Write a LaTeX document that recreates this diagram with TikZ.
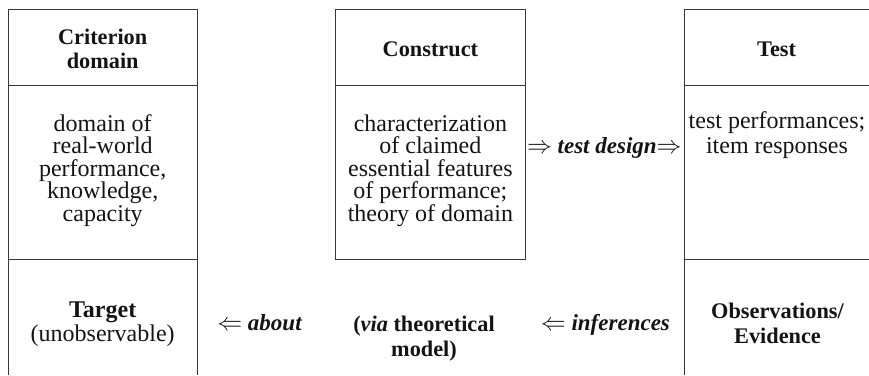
\documentclass[tikz,border=0pt]{standalone}
\usepackage{fontspec}
\setmainfont{Liberation Serif}
\begin{document}
\begin{tikzpicture}[x=1pt,y=-1pt,
  rule/.style={draw=black!78, line width=0.9pt},
  txt/.style={align=center, inner sep=0pt, anchor=base, text=black!92},
  body/.style={txt, font=\fontsize{24}{22.6}\selectfont},
  head/.style={txt, font=\fontsize{22.3}{24.5}\selectfont\bfseries},
  arrowtxt/.style={txt, font=\fontsize{23}{25}\selectfont\bfseries\itshape},
  bottomhead/.style={txt, font=\fontsize{22.3}{25}\selectfont\bfseries},
]
\useasboundingbox (0,0) rectangle (869,375);
% left column
\draw[rule] (8.3,375) -- (8.3,9.3) -- (197,9.3) -- (197,375);
\draw[rule] (8.3,85) -- (197,85);
\draw[rule] (8.3,259.5) -- (197,259.5);
% middle box
\draw[rule] (335.7,9.3) rectangle (525,259.5);
\draw[rule] (335.7,85) -- (525,85);
% right column
\draw[rule] (869,9.3) -- (684.3,9.3) -- (684.3,375);
\draw[rule] (684.3,85) -- (869,85);
\draw[rule] (684.3,259.5) -- (869,259.5);

% headers (anchor = baseline of the last line)
\node[head] (crithead) at (102.7,68.5) {Criterion\\domain};
\node[head] (conshead) at (430.4,56) {Construct};
\node[head] (testhead) at (776.6,56) {Test};

% bodies
\node[body] (critbody) at (102.7,221.4) {domain of\\real-world\\performance,\\knowledge,\\capacity};
\node[body] (consbody) at (430.4,221.4) {characterization\\of claimed\\essential features\\of performance;\\theory of domain};
\node[body, font=\fontsize{24}{25}\selectfont] (testbody) at (777,153) {test performances;\\item responses};

% middle arrow text
\node[arrowtxt] (design) at (604.3,153) {$\Rightarrow$ test design$\Rightarrow$};

% bottom row
\node[body, font=\fontsize{24}{24}\selectfont] (target) at (102.7,341) {\textbf{Target}\\(unobservable)};
\node[arrowtxt] (about) at (259.5,330) {$\Leftarrow$ about};
\node[bottomhead] (via) at (424,356.7) {(\textit{via} theoretical\\model)};
\node[arrowtxt] (infer) at (605.4,330) {$\Leftarrow$ inferences};
\node[bottomhead] (obs) at (777.5,343.3) {Observations/\\Evidence};
\end{tikzpicture}
\end{document}
